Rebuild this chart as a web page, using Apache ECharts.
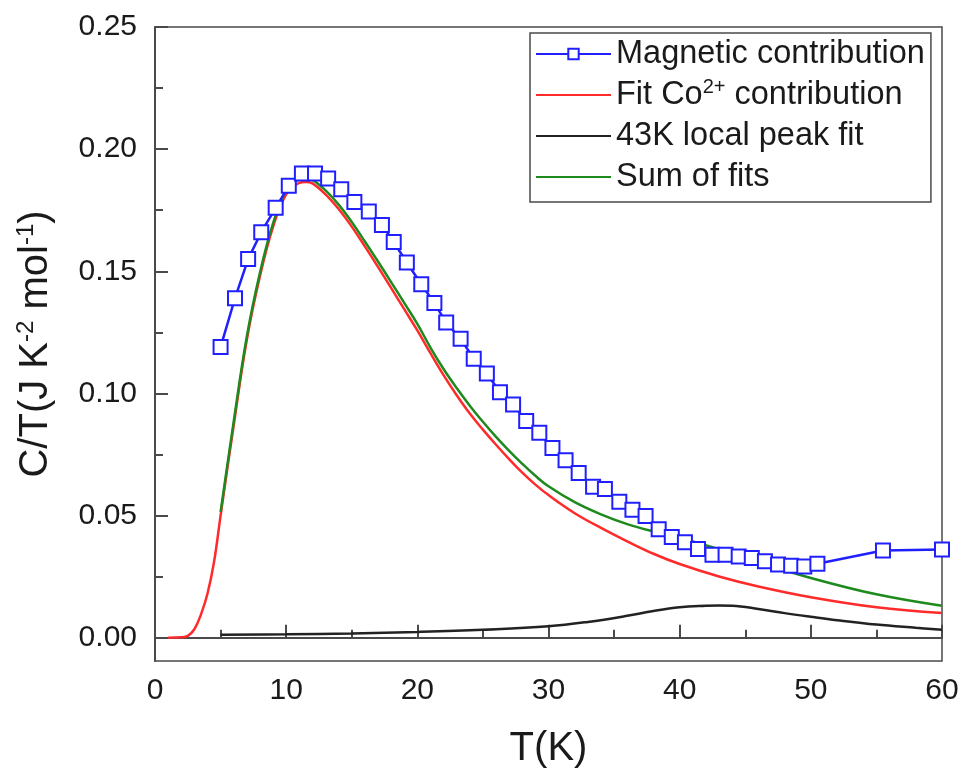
<!DOCTYPE html>
<html><head><meta charset="utf-8">
<script src="https://cdn.jsdelivr.net/npm/echarts@6/dist/echarts.min.js"></script>
<style>html,body{margin:0;padding:0;background:#fff}#c{width:963px;height:769px}</style>
</head><body><div id="c"></div>
<script>
// Magnetic contribution (blue squares)
var magT = [5.0,6.1,7.1,8.1,9.2,10.2,11.2,12.2,13.2,14.2,15.2,16.3,17.3,18.2,19.2,20.3,21.3,22.2,23.3,24.3,25.3,26.3,27.3,28.3,29.3,30.3,31.3,32.3,33.4,34.3,35.4,36.4,37.4,38.4,39.4,40.4,41.4,42.5,43.5,44.5,45.5,46.5,47.5,48.5,49.5,50.5,55.5,60.0];
var magV = [0.119,0.139,0.155,0.166,0.176,0.185,0.190,0.190,0.188,0.1836,0.1784,0.1745,0.169,0.162,0.1536,0.1447,0.137,0.129,0.1224,0.1142,0.1082,0.1005,0.0955,0.0887,0.0839,0.0777,0.0727,0.0675,0.0618,0.0609,0.0557,0.0524,0.0499,0.0444,0.0413,0.0391,0.0363,0.034,0.034,0.0333,0.0327,0.0313,0.030,0.0295,0.0292,0.0303,0.0357,0.0361];
// Fit Co2+ contribution (red)
var coT = [1,2,2.5,3,3.5,4,4.5,5,6,7,8,9,10,11,11.5,12,13,14,15,16,17,18,19,20,21,22,23,24,25,26,27,28,29,30,32,34,36,38,40,43,46,50,55,60];
var coV = [0,0.0002,0.0008,0.0035,0.0095,0.018,0.031,0.050,0.087,0.122,0.148,0.1682,0.1815,0.1862,0.1866,0.1860,0.1815,0.1755,0.1683,0.1602,0.1518,0.1432,0.1345,0.1258,0.1165,0.1075,0.0993,0.0918,0.0852,0.0790,0.0731,0.0676,0.0627,0.0584,0.0510,0.0450,0.0395,0.0344,0.0302,0.0251,0.0210,0.0166,0.0125,0.0101];
// 43K local peak fit (black)
var pkT = [5,10,15,20,25,30,33,36,38,40,42,43,44,46,48,50,52,55,58,60];
var pkV = [0.0012,0.0014,0.0018,0.0024,0.0033,0.0047,0.0065,0.009,0.011,0.0125,0.0131,0.0132,0.0131,0.0118,0.0101,0.0086,0.0072,0.0054,0.0041,0.0033];
// Sum of fits (green)
var sumT = [5,6,7,8,9,10,11,11.5,12,13,14,15,16,17,18,19,20,21,22,23,24,25,26,27,28,29,30,32,34,36,38,40,43,46,50,55,60];
var sumV = [0.0515,0.0885,0.1233,0.1494,0.1696,0.1829,0.1876,0.1880,0.1874,0.1831,0.1773,0.1702,0.1622,0.1540,0.1456,0.1371,0.1285,0.1188,0.1100,0.1022,0.0950,0.0884,0.0822,0.0765,0.0712,0.0663,0.0620,0.0555,0.0505,0.0465,0.0435,0.0410,0.0362,0.0310,0.0245,0.0178,0.0131];
// Tick values
var yLabelVals = [0,0.05,0.10,0.15,0.20,0.25];
var yMinorVals = [0.025,0.075,0.125,0.175,0.225];

function zip(a,b){return a.map(function(v,i){return [v,b[i]];});}

var FONT = 'Liberation Sans, Arial, sans-serif';
var AX = '#4a4a4a';
var TXT = '#1a1a1a';
var chart = echarts.init(document.getElementById('c'), null, {renderer:'canvas'});
var yBase = {
  type:'value', min:-0.0095, max:0.25, position:'left',
  splitLine:{show:false}
};
chart.setOption({
  animation:false,
  backgroundColor:'#fff',
  grid:{left:155, right:21, top:27, bottom:108, show:true, borderColor:AX, borderWidth:1.5,
    containLabel:false, outerBoundsMode:'none'},
  xAxis:{
    type:'value', min:0, max:60, interval:10,
    name:'T(K)', nameLocation:'middle', nameGap:68,
    nameTextStyle:{fontFamily:FONT, fontSize:40, color:TXT, lineHeight:40},
    axisLine:{lineStyle:{color:AX, width:2}},
    axisTick:{inside:true, length:13, lineStyle:{color:AX, width:2}},
    minorTick:{show:true, splitNumber:2, length:8, lineStyle:{color:AX, width:2}},
    axisLabel:{fontFamily:FONT, fontSize:30, color:TXT, margin:15},
    splitLine:{show:false}
  },
  yAxis:[
    Object.assign({}, yBase, {
      name:'{n|C/T(J K}{s|-2}{n| mol}{s|-1}{n|)}', nameLocation:'middle', nameGap:97, nameRotate:90,
      nameTextStyle:{rich:{
        n:{fontFamily:FONT, fontSize:40, color:TXT, lineHeight:44},
        s:{fontFamily:FONT, fontSize:24, color:TXT, verticalAlign:'top', lineHeight:44, padding:[0,0,16,0]}
      }},
      axisLine:{lineStyle:{color:AX, width:2}},
      axisTick:{inside:true, length:13, customValues:yLabelVals, lineStyle:{color:AX, width:2}},
      axisLabel:{customValues:yLabelVals, fontFamily:FONT, fontSize:30, color:TXT, margin:18,
        formatter:function(v){return v.toFixed(2);}}
    }),
    Object.assign({}, yBase, {
      axisLine:{show:false},
      axisTick:{inside:true, length:8, customValues:yMinorVals, lineStyle:{color:AX, width:2}},
      axisLabel:{show:false}
    })
  ],
  legend:{
    orient:'vertical', left:530, top:33,
    padding:[3,6,7,5], itemGap:5, itemWidth:75, itemHeight:13,
    borderColor:AX, borderWidth:1.5, backgroundColor:'#fff',
    textStyle:{fontFamily:FONT, fontSize:32.5, color:TXT, lineHeight:36,
      rich:{
        n:{fontFamily:FONT, fontSize:32.5, color:TXT, lineHeight:36},
        s:{fontFamily:FONT, fontSize:20, color:TXT, lineHeight:36, verticalAlign:'top', padding:[0,0,14,0]}
      }},
    formatter:function(name){
      if(name==='Fit Co2+ contribution') return '{n|Fit Co}{s|2+}{n| contribution}';
      return '{n|'+name+'}';
    },
    data:[
      {name:'Magnetic contribution'},
      {name:'Fit Co2+ contribution', itemStyle:{opacity:0}},
      {name:'43K local peak fit', itemStyle:{opacity:0}},
      {name:'Sum of fits', itemStyle:{opacity:0}}
    ]
  },
  series:[
    {name:'Fit Co2+ contribution', type:'line', data:zip(coT,coV), smooth:0.4, symbol:'none',
      lineStyle:{color:'#ff2a2a', width:2.5}, itemStyle:{color:'#ff2a2a'}, z:2},
    {name:'43K local peak fit', type:'line', data:zip(pkT,pkV), smooth:0.4, symbol:'none',
      lineStyle:{color:'#222', width:2.5}, itemStyle:{color:'#222'}, z:2},
    {name:'Sum of fits', type:'line', data:zip(sumT,sumV), smooth:0.4, symbol:'none',
      lineStyle:{color:'#1e8a1e', width:2.5}, itemStyle:{color:'#1e8a1e'}, z:3},
    {name:'Magnetic contribution', type:'line', data:zip(magT,magV), symbol:'emptyRect', symbolSize:14,
      lineStyle:{color:'#2020ff', width:2.5}, itemStyle:{color:'#2020ff', borderWidth:2}, z:4}
  ]
});
</script></body></html>
